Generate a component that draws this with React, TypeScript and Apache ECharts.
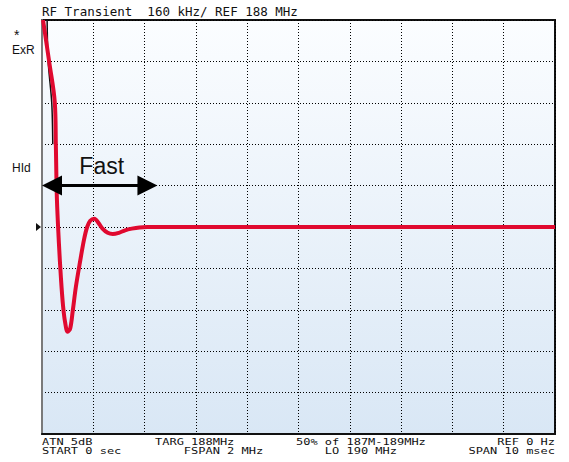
import React, { useEffect, useRef } from "react";
import * as echarts from "echarts";

// Time axis (msec) and level (divisions, 0 = bottom, 10 = top)
const timeMs = [0.02, 0.14, 0.25, 0.27, 0.29, 0.33, 0.37, 0.41, 0.45, 0.5, 0.55, 0.6, 0.66, 0.74, 0.82, 0.88, 0.94, 1.02, 1.1, 1.18, 1.28, 1.38, 1.5, 1.62, 1.75, 1.9, 2.05, 3, 5, 7, 10];
const redLevel = [10, 8.99, 8.0, 6.98, 5.7, 4.6, 3.75, 3.1, 2.7, 2.47, 2.55, 2.98, 3.55, 4.15, 4.7, 5.0, 5.15, 5.2, 5.1, 4.96, 4.86, 4.83, 4.86, 4.92, 4.96, 4.99, 5.0, 5.0, 5.0, 5.0, 5.0];
const blackTimeMs = [0.1, 0.12, 0.19, 0.21];
const blackLevel = [10, 9, 8, 7];

const titleText = "RF Transient  160 kHz/ REF 188 MHz";
const footerRow1 = ["ATN 5dB", "TARG 188MHz", "50% of 187M-189MHz", "REF 0 Hz"];
const footerRow2 = ["START 0 sec", "FSPAN 2 MHz", "LO 190 MHz", "SPAN 10 msec"];
const footerRow2Indent = [0, 4, 4, 0];
const sideLabels = ["*", "ExR", "HId"];
const arrowLabel = "Fast";
const arrowSpanMs = [0, 2.25];
const arrowLevel = 6;
const referenceLevel = 5;

const MONO = "'DejaVu Sans Mono', 'Liberation Mono', monospace";
const SANS = "'Liberation Sans', Arial, sans-serif";

export default function App() {
  const ref = useRef<HTMLDivElement>(null);
  useEffect(() => {
    if (!ref.current) return;
    const chart = echarts.init(ref.current, undefined, { renderer: "svg" });
    const red = timeMs.map((t, i) => [t, redLevel[i]]);
    const blk = blackTimeMs.map((t, i) => [t, blackLevel[i]]);
    const axisCommon = {
      type: "value" as const,
      min: 0,
      max: 10,
      interval: 1,
      axisLabel: { show: false },
      axisTick: { show: false },
      splitLine: { show: true, lineStyle: { color: "#000", width: 1, type: [1, 2] as any } },
    };
    chart.setOption({
      animation: false,
      backgroundColor: "#ffffff",
      grid: {
        left: 42,
        right: 14,
        top: 20,
        bottom: 28,
        show: true,
        borderColor: "#111",
        borderWidth: 2,
        backgroundColor: new echarts.graphic.LinearGradient(0, 0, 0, 1, [
          { offset: 0, color: "#fbfdff" },
          { offset: 1, color: "#d9e7f5" },
        ]),
      },
      xAxis: { ...axisCommon, axisLine: { show: true, lineStyle: { color: "#111", width: 2 } } },
      yAxis: { ...axisCommon, axisLine: { show: true, lineStyle: { color: "#7a7a7a", width: 2 } } },
      series: [
        {
          type: "line",
          data: blk,
          showSymbol: false,
          smooth: 0.3,
          lineStyle: { color: "#111", width: 1.5 },
          z: 2,
        },
        {
          type: "line",
          data: red,
          showSymbol: false,
          smooth: 0.35,
          clip: false,
          lineStyle: { color: "#e0092f", width: 4 },
          z: 3,
        },
      ],
    });

    const p0 = chart.convertToPixel({ gridIndex: 0 }, [arrowSpanMs[0], arrowLevel]) as number[];
    const p1 = chart.convertToPixel({ gridIndex: 0 }, [arrowSpanMs[1], arrowLevel]) as number[];
    const pRef = chart.convertToPixel({ gridIndex: 0 }, [0, referenceLevel]) as number[];
    const pTop = chart.convertToPixel({ gridIndex: 0 }, [0, 10]) as number[];
    const pRight = chart.convertToPixel({ gridIndex: 0 }, [10, 0]) as number[];
    const y = p0[1];
    const headL = 20;
    const headH = 10;
    const footerStyle = { font: `12px ${MONO}`, fill: "#111", lineHeight: 13, verticalAlign: "top" as const };
    const footerX = [42, 155, 296, pRight[0]];
    const footerText = (i: number) =>
      footerRow1[i] + "\n" + "\u00a0".repeat(footerRow2Indent[i]) + footerRow2[i];

    chart.setOption({
      graphic: [
        { type: "text", left: pTop[0], top: 5, style: { text: titleText, font: `12.5px ${MONO}`, fill: "#111" } },
        { type: "text", x: 14, y: 28, style: { text: sideLabels[0], font: `14px ${SANS}`, fill: "#111" } },
        { type: "text", x: 12, y: 44, style: { text: sideLabels[1], font: `12px ${SANS}`, fill: "#111" } },
        { type: "text", x: 12, y: 162, style: { text: sideLabels[2], font: `12px ${SANS}`, fill: "#111" } },
        {
          type: "polygon",
          shape: { points: [[pRef[0] - 6, pRef[1] - 4], [pRef[0] - 1, pRef[1]], [pRef[0] - 6, pRef[1] + 4]] },
          style: { fill: "#111" },
        },
        // Fast arrow
        { type: "line", shape: { x1: p0[0] + headL - 2, y1: y, x2: p1[0] - headL + 2, y2: y }, style: { stroke: "#000", lineWidth: 3 }, z: 10 },
        {
          type: "polygon",
          shape: { points: [[p0[0], y], [p0[0] + headL, y - headH], [p0[0] + headL, y + headH]] },
          style: { fill: "#000" },
          z: 10,
        },
        {
          type: "polygon",
          shape: { points: [[p1[0], y], [p1[0] - headL, y - headH], [p1[0] - headL, y + headH]] },
          style: { fill: "#000" },
          z: 10,
        },
        {
          type: "text",
          x: (p0[0] + p1[0]) / 2 + 2,
          y: y - 8,
          style: { text: arrowLabel, font: `23px ${SANS}`, fill: "#111", align: "center", verticalAlign: "bottom" },
          z: 10,
        },
        // footer: two rows per column, vertically condensed like the instrument font
        ...footerX.map((x, i) => ({
          type: "text",
          x,
          y: 437,
          scaleY: 0.72,
          style: { ...footerStyle, text: footerText(i), align: i === 3 ? "right" : "left" },
        })),
      ],
    });
    return () => chart.dispose();
  }, []);
  return <div ref={ref} style={{ position: "fixed", left: 0, top: 0, width: 569, height: 462 }} />;
}
